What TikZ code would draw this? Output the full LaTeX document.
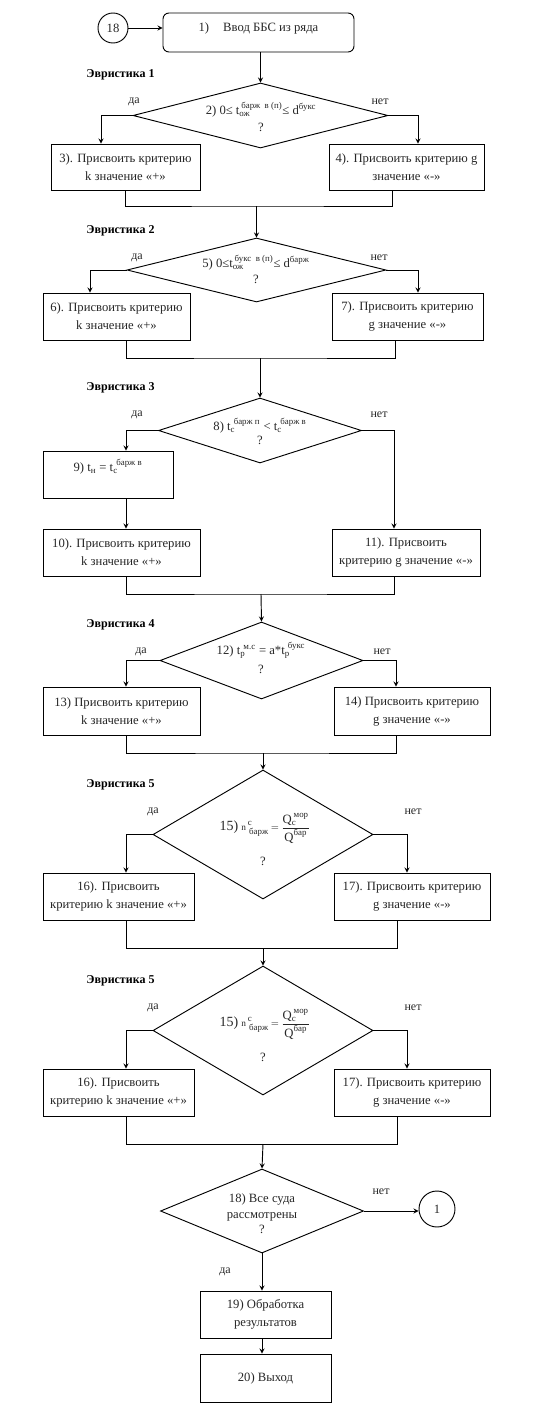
\documentclass[tikz,border=0pt]{standalone}
\usepackage{fontspec}
\usepackage{amsmath}
\setmainfont{Liberation Serif}
\usetikzlibrary{shapes.geometric,calc}
\begin{document}
\begin{tikzpicture}[>=stealth,x=0.75pt,y=-0.75pt,line width=0.7pt,
	sz/.style 2 args={minimum width=#1*0.75pt,minimum height=#2*0.75pt},
	blk/.style={draw,rectangle,align=center,inner sep=0pt,text=black!85,font=\fontsize{9.5}{13.5}\selectfont},
	dec/.style={draw,diamond,inner sep=0pt},
	con/.style={draw,circle,inner sep=0pt,text=black!85,font=\fontsize{9.5}{12}\selectfont},
	txt/.style={inner sep=0pt,align=center,text=black!85,font=\fontsize{9.5}{11.5}\selectfont},
	ans/.style={inner sep=0pt,text=black!85,font=\fontsize{9}{11}\selectfont},
	heur/.style={anchor=west,inner sep=0pt,font=\bfseries\fontsize{9}{11}\selectfont}]
		\useasboundingbox (0,0) rectangle (537,1417);
		% 1) ввод
		\node[con,minimum size=30*0.75pt] (c18) at (113,28) {18};
		\node[blk,sz={191}{39},rounded corners=4.5pt,text height=7pt,text depth=8pt] (b1) at (258.5,32.5) {1)\hspace{10.5pt}Ввод ББС из ряда};
		% эвристика 1
		\node[heur] (h1) at (86,75) {Эвристика 1};
		\node[dec,sz={255}{65}] (d2) at (260.5,115.5) {};
		\node[txt] (t2) at (261,110) {2) 0≤ t$_{\text{ож}}^{\,\text{барж\ \ в (п)}}$≤ d$^{\text{букс}}$};
		\node[txt] (q2) at (261,127) {?};
		\node[ans] (y2) at (134,102) {да};
		\node[ans] (n2) at (380,102) {нет};
		\node[blk,sz={149}{46}] (b3) at (125.5,167) {3). Присвоить критерию\\k значение «+»};
		\node[blk,sz={155}{46}] (b4) at (406.5,167) {4). Присвоить критерию g\\значение «-»};
		\coordinate (j1) at (256.5,206);
		% эвристика 2
		\node[heur] (h2) at (86,231) {Эвристика 2};
		\node[dec,sz={259}{64}] (d5) at (256.5,270) {};
		\node[txt] (t5) at (256,263) {5) 0≤t$_{\text{ож}}^{\,\text{букс\ \ в (п)}}$≤ d$^{\text{барж}}$};
		\node[txt] (q5) at (256,279) {?};
		\node[ans] (y5) at (137,258) {да};
		\node[ans] (n5) at (379,258) {нет};
		\node[blk,sz={147}{47}] (b6) at (116.5,316.5) {6). Присвоить критерию\\k значение «+»};
		\node[blk,sz={151}{47}] (b7) at (407.5,316.5) {7). Присвоить критерию\\g значение «-»};
		\coordinate (j2) at (260,358);
		% эвристика 3
		\node[heur] (h3) at (86,388) {Эвристика 3};
		\node[dec,sz={203}{65}] (d8) at (260,430.5) {};
		\node[txt] (t8) at (260,426) {8) t$_{\text{c}}^{\;\text{барж п}}$ < t$_{\text{c}}^{\;\text{барж в}}$};
		\node[txt] (q8) at (260,440) {?};
		\node[ans] (y8) at (137,415) {да};
		\node[ans] (n8) at (379,415) {нет};
		\node[blk,sz={130}{47}] (b9) at (108,474.5) {9) t$_{\text{н}}$ = t$_{\text{c}}^{\;\text{барж в}}$\\\mbox{}};
		\node[blk,sz={157}{47}] (b10) at (121.5,552.5) {10). Присвоить критерию\\k значение «+»};
		\node[blk,sz={148}{47}] (b11) at (406,552.5) {11). Присвоить\\критерию g значение «-»};
		\coordinate (j3) at (261,594);
		% эвристика 4
		\node[heur] (h4) at (86,625) {Эвристика 4};
		\node[dec,sz={203}{77}] (d12) at (261.5,660.5) {};
		\node[txt] (t12) at (261,650) {12) t$_{\text{p}}^{\ \text{м.с}}$\ = a*t$_{\text{p}}^{\ \text{букс}}$};
		\node[txt] (q12) at (261,669) {?};
		\node[ans] (y12) at (141,652) {да};
		\node[ans] (n12) at (382,652) {нет};
		\node[blk,sz={157}{48}] (b13) at (121.5,711) {13) Присвоить критерию\\k значение «+»};
		\node[blk,sz={156}{48}] (b14) at (412,711) {14) Присвоить критерию\\g значение «-»};
		\coordinate (j4) at (263,753);
		% эвристика 5 (два раза)
		\foreach \s/\dy in {a/0,b/196}{
			\node[heur] (h5\s) at (86,785+\dy) {Эвристика 5};
			\node[dec,sz={220}{129}] (d15\s) at (263,834.5+\dy) {};
			\node[txt] (t15\s) at (265,828+\dy) {{\fontsize{10.5}{12}\selectfont 15)} {\scriptsize n}$^{\,\text{c}}_{\;\text{барж}}\,{\scriptstyle=}\,\dfrac{\text{Q}_{\text{c}}^{\,\text{мор}}}{\text{Q}^{\text{бар}}}$};
			\node[txt] (q15\s) at (263,861+\dy) {?};
			\node[ans] (y15\s) at (153,812+\dy) {да};
			\node[ans] (n15\s) at (413,812+\dy) {нет};
			\node[blk,sz={151}{47}] (b16\s) at (118.5,896.5+\dy) {16). Присвоить\\критерию k значение «+»};
			\node[blk,sz={156}{47}] (b17\s) at (412,896.5+\dy) {17). Присвоить критерию\\g значение «-»};
			\draw[->] (d15\s.west) -| ($(b16\s.north)+(7.5,0)$);
			\draw[->] (d15\s.east) -| ($(b17\s.north)+(-5,0)$);
			\coordinate (j5\s) at (263,948+\dy);
			\draw ($(b16\s.south)+(7.5,0)$) |- (j5\s) -| ($(b17\s.south)+(-15,0)$);
		}
		% конец
		\node[dec,sz={203}{84}] (d18) at (262,1211) {};
		\node[txt] (t18) at (262,1214) {18) Все суда\\рассмотрены\\?};
		\node[ans] (n18) at (381,1192) {нет};
		\node[con,minimum size=36*0.75pt] (c1) at (437,1209) {1};
		\node[ans] (y18) at (225,1272) {да};
		\node[blk,sz={131}{47}] (b19) at (265.5,1314.5) {19) Обработка\\результатов};
		\node[blk,sz={131}{48}] (b20) at (265.5,1378) {20) Выход};
		% связи
		\draw[->] (c18) -- (c18 -| b1.west);
		\draw[->] (b1.south -| d2.north) -- (d2.north);
		\draw[->] (d2.west) -| ($(b3.north)+(-24.5,0)$);
		\draw[->] (d2.east) -| ($(b4.north)+(11.5,0)$);
		\draw (b3.south) |- (j1) -| ($(b4.south)+(-14.5,0)$);
		\draw[->] (j1) -- (d5.north);
		\draw[->] (d5.west) -| ($(b6.north)+(-26.5,0)$);
		\draw[->] (d5.east) -| ($(b7.north)+(10.5,0)$);
		\draw ($(b6.south)+(9.5,0)$) |- (j2) -| ($(b7.south)+(-12.5,0)$);
		\draw[->] (j2) -- (d8.north);
		\draw[->] (d8.west) -| ($(b9.north)+(18,0)$);
		\draw[->] ($(b9.south)+(18,0)$) -- ($(b10.north)+(4.5,0)$);
		\draw[->] (d8.east) -| ($(b11.north)+(-12,0)$);
		\draw ($(b10.south)+(4.5,0)$) |- (j3) -| ($(b11.south)+(-12,0)$);
		\draw[->] (j3) -- (d12.north);
		\draw[->] (d12.west) -| ($(b13.north)+(4.5,0)$);
		\draw[->] (d12.east) -| ($(b14.north)+(-16,0)$);
		\draw ($(b13.south)+(4.5,0)$) |- (j4) -| ($(b14.south)+(-16,0)$);
		\draw[->] (j4) -- (d15a.north);
		\draw[->] (j5a) -- (d15b.north);
		\draw[->] (j5b) -- (d18.north);
		\draw[->] (d18.east) -- (d18.east -| c1.west);
		\draw[->] (d18.south) -- (d18.south |- b19.north);
		\draw[->] (b19.south -| d18.south) -- (d18.south |- b20.north);
\end{tikzpicture}
\end{document}
